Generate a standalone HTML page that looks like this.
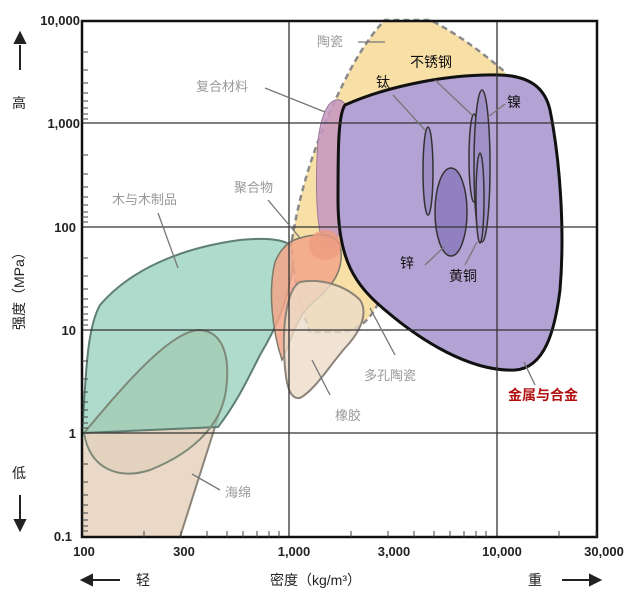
<!DOCTYPE html>
<html><head><meta charset="utf-8"><style>
body{margin:0;background:#fff;}
svg{display:block;font-family:"Liberation Sans","Noto Sans CJK SC",sans-serif;}
</style></head><body>
<svg width="640" height="613" viewBox="0 0 640 613" xmlns="http://www.w3.org/2000/svg">
<rect width="640" height="613" fill="#fff"/>
<!-- foam -->
<path d="M82,537 L82,433 C88,460 110,476 140,472 C170,465 200,440 222,405 L180,537 Z" fill="#ead9c6" stroke="none"/>
<path d="M84,433 C120,390 170,330 200,330 C225,332 230,360 226,390 C222,420 200,450 150,470 C120,480 90,470 84,433 Z" fill="#e3d2bd"/>
<path d="M222,405 L180,537" stroke="#8c8478" stroke-width="2" fill="none"/>
<!-- wood -->
<path d="M82,433 C86,380 86,330 100,305 C130,270 180,248 240,240 C270,237 290,240 295,250 C290,300 275,330 260,355 C245,385 235,405 218,427 L82,433 Z" fill="#8fcdb8" fill-opacity="0.72" stroke="#5f7f74" stroke-width="2"/>
<path d="M84,433 C120,390 170,330 200,330 C225,332 230,360 226,390 C222,420 200,450 150,470 C120,480 90,470 84,433 Z" fill="none" stroke="#7d8a78" stroke-width="2"/>
<!-- ceramics -->
<path d="M292,240 C300,190 315,140 345,80 C360,50 375,30 385,20 L430,20 C460,35 485,55 505,72 L510,110 L380,300 C370,320 360,330 340,332 L310,332 C298,300 292,270 292,240 Z" fill="#f7dfa6" stroke="#8a8a8a" stroke-width="2.5" stroke-dasharray="6,4"/>
<!-- composite -->
<path d="M318,140 C322,110 330,98 340,100 C350,104 352,120 348,160 C344,210 340,245 330,250 C318,250 314,200 318,140 Z" fill="#c596c2" fill-opacity="0.85" stroke="#9a7a9a" stroke-width="1"/>
<!-- polymer -->
<path d="M300,238 C320,232 335,235 340,245 C345,268 335,285 310,305 C295,320 288,350 282,360 C272,330 268,290 275,262 C282,245 292,240 300,238 Z" fill="#f2a688" fill-opacity="0.85" stroke="#7a7a6a" stroke-width="1.5"/>
<ellipse cx="325" cy="245" rx="16" ry="15" fill="#ee9c80" fill-opacity="0.8"/>
<!-- rubber -->
<path d="M300,282 C320,278 345,285 360,300 C368,312 362,330 345,348 C330,365 315,390 300,398 C288,400 285,380 284,350 C283,320 288,288 300,282 Z" fill="#ecdcc8" fill-opacity="0.8" stroke="#8c8478" stroke-width="2"/>
<!-- metal -->
<path d="M345,105 C390,85 450,74 500,75 C530,76 545,88 550,110 C560,160 565,230 560,290 C555,330 545,368 515,370 C470,372 420,340 385,310 C355,285 338,260 338,200 C338,150 338,115 345,105 Z" fill="#b3a3d4" stroke="#111" stroke-width="3"/>
<ellipse cx="428" cy="171" rx="5" ry="44" fill="#9d8ec6" stroke="#333" stroke-width="1.5"/>
<ellipse cx="451" cy="212" rx="16" ry="44" fill="#9080bf" stroke="#333" stroke-width="1.5"/>
<ellipse cx="474" cy="158" rx="5" ry="44" fill="#a696cc" stroke="#333" stroke-width="1.5"/>
<ellipse cx="482" cy="166" rx="8" ry="76" fill="#a090c8" stroke="#333" stroke-width="1.5"/>
<ellipse cx="480" cy="198" rx="4" ry="45" fill="#a090c8" stroke="#333" stroke-width="1.5"/>
<!-- grid -->
<g stroke="#333" stroke-width="1.3" fill="none">
<line x1="82" y1="123" x2="597" y2="123"/><line x1="82" y1="227" x2="597" y2="227"/>
<line x1="82" y1="330" x2="597" y2="330"/><line x1="82" y1="433" x2="597" y2="433"/>
<line x1="289" y1="21" x2="289" y2="537"/><line x1="497" y1="21" x2="497" y2="537"/>
</g>
<rect x="82" y="21" width="515" height="516" fill="none" stroke="#111" stroke-width="2.5"/>
<!-- ticks -->
<g stroke="#444" stroke-width="1">
<path d="M82,52h6M82,70h6M82,83h6M82,93h6M82,101h6M82,108h6M82,114h6M82,119h6
M82,155h6M82,174h6M82,187h6M82,197h6M82,205h6M82,212h6M82,217h6M82,222h6
M82,258h6M82,276h6M82,289h6M82,299h6M82,307h6M82,314h6M82,320h6M82,325h6
M82,361h6M82,379h6M82,392h6M82,402h6M82,410h6M82,417h6M82,423h6M82,428h6
M82,464h6M82,482h6M82,495h6M82,505h6M82,513h6M82,520h6M82,526h6M82,531h6
M144,537v-6M181,537v-6M207,537v-6M227,537v-6M243,537v-6M257,537v-6M269,537v-6M279,537v-6
M351,537v-6M388,537v-6M414,537v-6M434,537v-6M450,537v-6M464,537v-6M476,537v-6M486,537v-6
M559,537v-6M596,537v-6"/>
</g>
<!-- leader lines -->
<g stroke="#777" stroke-width="1.3">
<line x1="265" y1="88" x2="325" y2="112"/><line x1="268" y1="200" x2="300" y2="238"/>
<line x1="158" y1="213" x2="178" y2="268"/><line x1="358" y1="42" x2="385" y2="42"/>
<line x1="393" y1="95" x2="425" y2="130"/><line x1="435" y1="80" x2="472" y2="115"/>
<line x1="505" y1="104" x2="488" y2="117"/><line x1="425" y1="265" x2="444" y2="247"/>
<line x1="465" y1="265" x2="477" y2="242"/><line x1="370" y1="308" x2="395" y2="355"/>
<line x1="330" y1="395" x2="312" y2="360"/><line x1="220" y1="490" x2="192" y2="474"/>
<line x1="535" y1="385" x2="524" y2="362"/>
</g>
<!-- labels -->
<g font-size="13" fill="#999">
<text x="317" y="46">陶瓷</text><text x="196" y="91">复合材料</text>
<text x="234" y="192">聚合物</text><text x="112" y="204">木与木制品</text>
<text x="364" y="380">多孔陶瓷</text><text x="335" y="420">橡胶</text>
<text x="225" y="497">海绵</text>
</g>
<g font-size="14" fill="#111">
<text x="410" y="67">不锈钢</text><text x="376" y="87">钛</text>
<text x="507" y="107">镍</text><text x="400" y="268">锌</text><text x="449" y="281">黄铜</text>
</g>
<text x="508" y="400" font-size="14" font-weight="bold" fill="#b01010">金属与合金</text>
<g font-size="13" font-weight="bold" fill="#222" text-anchor="end">
<text x="80" y="25">10,000</text><text x="80" y="128">1,000</text><text x="76" y="232">100</text>
<text x="76" y="335">10</text><text x="76" y="438">1</text><text x="72" y="541">0.1</text>
</g>
<g font-size="13" font-weight="bold" fill="#222" text-anchor="middle">
<text x="84" y="556">100</text><text x="184" y="556">300</text><text x="294" y="556">1,000</text>
<text x="394" y="556">3,000</text><text x="502" y="556">10,000</text><text x="604" y="556">30,000</text>
</g>
<text x="270" y="585" font-size="14" fill="#222">密度（kg/m³）</text>
<text x="136" y="585" font-size="14" fill="#222">轻</text>
<text x="528" y="585" font-size="14" fill="#222">重</text>
<g stroke="#222" stroke-width="2" fill="#222">
<line x1="90" y1="580" x2="120" y2="580"/><path d="M82,580l10,-5v10z"/>
<line x1="562" y1="580" x2="592" y2="580"/><path d="M600,580l-10,-5v10z"/>
<line x1="20" y1="45" x2="20" y2="70"/><path d="M20,33l-5,10h10z"/>
<line x1="20" y1="495" x2="20" y2="520"/><path d="M20,530l-5,-10h10z"/>
</g>
<text x="12" y="108" font-size="14" fill="#222">高</text>
<text x="12" y="478" font-size="14" fill="#222">低</text>
<text transform="translate(24,330) rotate(-90)" font-size="14" fill="#222">强度（MPa）</text>
</svg>
</body></html>
